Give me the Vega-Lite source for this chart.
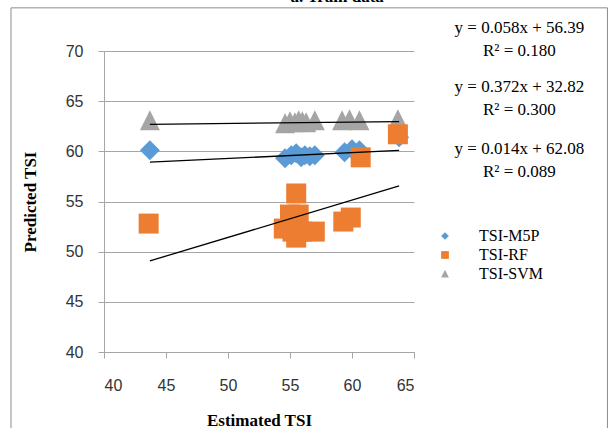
{
  "$schema": "https://vega.github.io/schema/vega-lite/v6.json",
  "width": 310,
  "height": 301,
  "autosize": {"type": "none"},
  "padding": {"left": 104, "top": 51, "right": 199, "bottom": 76},
  "background": "white",
  "config": {"view": {"stroke": null}},
  "datasets": {
    "points": [
      {"series": "TSI-SVM", "est": 43.7, "pred": 63.0},
      {"series": "TSI-SVM", "est": 54.6, "pred": 62.7},
      {"series": "TSI-SVM", "est": 55.0, "pred": 62.9},
      {"series": "TSI-SVM", "est": 55.4, "pred": 62.8},
      {"series": "TSI-SVM", "est": 55.7, "pred": 63.0},
      {"series": "TSI-SVM", "est": 56.0, "pred": 62.9},
      {"series": "TSI-SVM", "est": 56.3, "pred": 62.8},
      {"series": "TSI-SVM", "est": 57.0, "pred": 63.0},
      {"series": "TSI-SVM", "est": 59.2, "pred": 63.0},
      {"series": "TSI-SVM", "est": 59.8, "pred": 63.1},
      {"series": "TSI-SVM", "est": 60.6, "pred": 63.0},
      {"series": "TSI-SVM", "est": 63.7, "pred": 63.1},
      {"series": "TSI-M5P", "est": 43.7, "pred": 60.1},
      {"series": "TSI-M5P", "est": 54.6, "pred": 59.3},
      {"series": "TSI-M5P", "est": 55.1, "pred": 59.6},
      {"series": "TSI-M5P", "est": 55.5, "pred": 59.8},
      {"series": "TSI-M5P", "est": 55.9, "pred": 59.4},
      {"series": "TSI-M5P", "est": 56.2, "pred": 59.6},
      {"series": "TSI-M5P", "est": 56.6, "pred": 59.5},
      {"series": "TSI-M5P", "est": 57.0, "pred": 59.6},
      {"series": "TSI-M5P", "est": 59.4, "pred": 59.9},
      {"series": "TSI-M5P", "est": 60.0, "pred": 60.2},
      {"series": "TSI-M5P", "est": 60.6, "pred": 60.1},
      {"series": "TSI-M5P", "est": 63.8, "pred": 61.4},
      {"series": "TSI-RF", "est": 43.6, "pred": 52.8},
      {"series": "TSI-RF", "est": 55.5, "pred": 55.8},
      {"series": "TSI-RF", "est": 55.0, "pred": 53.7},
      {"series": "TSI-RF", "est": 55.7, "pred": 53.7},
      {"series": "TSI-RF", "est": 54.5, "pred": 52.3},
      {"series": "TSI-RF", "est": 55.2, "pred": 52.0},
      {"series": "TSI-RF", "est": 55.5, "pred": 51.4},
      {"series": "TSI-RF", "est": 56.0, "pred": 52.0},
      {"series": "TSI-RF", "est": 57.0, "pred": 52.0},
      {"series": "TSI-RF", "est": 59.3, "pred": 53.0},
      {"series": "TSI-RF", "est": 59.9, "pred": 53.4},
      {"series": "TSI-RF", "est": 60.7, "pred": 59.4},
      {"series": "TSI-RF", "est": 63.7, "pred": 61.7}
    ],
    "trend": [
      {"series": "TSI-M5P", "est": 43.7, "pred": 58.92},
      {"series": "TSI-M5P", "est": 63.8, "pred": 60.09},
      {"series": "TSI-RF", "est": 43.7, "pred": 49.08},
      {"series": "TSI-RF", "est": 63.8, "pred": 56.55},
      {"series": "TSI-SVM", "est": 43.7, "pred": 62.69},
      {"series": "TSI-SVM", "est": 63.8, "pred": 62.97}
    ]
  },
  "layer": [
    {
      "data": {"values": [{}]},
      "mark": {"type": "rect", "fill": null, "stroke": "#8c8c8c", "strokeWidth": 1, "clip": false},
      "encoding": {
        "x": {"datum": 32.5, "type": "quantitative"},
        "x2": {"datum": 80.6},
        "y": {"datum": 74.3, "type": "quantitative"},
        "y2": {"datum": 30.0}
      }
    },
    {
      "data": {"name": "points"},
      "mark": {"type": "point", "filled": true, "opacity": 1, "size": 400},
      "encoding": {
        "x": {
          "field": "est", "type": "quantitative",
          "scale": {"domain": [40, 65], "nice": false, "zero": false},
          "axis": {
            "values": [40, 45, 50, 55, 60, 65], "grid": false,
            "domainColor": "#a6a6a6", "tickColor": "#a6a6a6", "tickSize": 6,
            "labelFont": "Liberation Sans", "labelFontSize": 16, "labelColor": "#333333", "labelPadding": 19,
            "title": "Estimated TSI", "titleFont": "Liberation Serif", "titleFontSize": 17, "titleFontWeight": "bold", "titleColor": "#000000", "titlePadding": 19
          }
        },
        "y": {
          "field": "pred", "type": "quantitative",
          "scale": {"domain": [40, 70], "nice": false, "zero": false},
          "axis": {
            "values": [40, 45, 50, 55, 60, 65, 70], "grid": true, "gridColor": "#a6a6a6",
            "domainColor": "#a6a6a6", "tickColor": "#a6a6a6", "tickSize": 6,
            "labelFont": "Liberation Sans", "labelFontSize": 16, "labelColor": "#333333", "labelPadding": 15,
            "title": "Predicted TSI", "titleFont": "Liberation Serif", "titleFontSize": 17, "titleFontWeight": "bold", "titleColor": "#000000", "titlePadding": 26
          }
        },
        "color": {
          "field": "series", "type": "nominal",
          "scale": {"domain": ["TSI-M5P", "TSI-RF", "TSI-SVM"], "range": ["#5b9bd5", "#ed7d31", "#a5a5a5"]},
          "legend": {
            "orient": "none", "legendX": 333, "legendY": 177, "title": null,
            "labelFont": "Liberation Serif", "labelFontSize": 16, "labelColor": "#000000",
            "symbolSize": 60, "labelOffset": 26, "rowPadding": 3
          }
        },
        "shape": {
          "field": "series", "type": "nominal",
          "scale": {"domain": ["TSI-M5P", "TSI-RF", "TSI-SVM"], "range": ["diamond", "square", "M0,-1.1L1,0.9L-1,0.9Z"]},
          "legend": null
        }
      }
    },
    {
      "data": {"name": "trend"},
      "mark": {"type": "line", "color": "#000000", "strokeWidth": 1.3},
      "encoding": {
        "x": {"field": "est", "type": "quantitative"},
        "y": {"field": "pred", "type": "quantitative"},
        "detail": {"field": "series"}
      }
    },
    {
      "data": {"values": [{"t": ["y = 0.058x + 56.39", "R² = 0.180"]}]},
      "mark": {"type": "text", "align": "center", "baseline": "alphabetic", "font": "Liberation Serif", "fontSize": 17, "lineHeight": 23, "color": "#000000", "clip": false},
      "encoding": {"text": {"field": "t"}, "x": {"datum": 73.5, "type": "quantitative"}, "y": {"datum": 71.8, "type": "quantitative"}}
    },
    {
      "data": {"values": [{"t": ["y = 0.372x + 32.82", "R² = 0.300"]}]},
      "mark": {"type": "text", "align": "center", "baseline": "alphabetic", "font": "Liberation Serif", "fontSize": 17, "lineHeight": 23, "color": "#000000", "clip": false},
      "encoding": {"text": {"field": "t"}, "x": {"datum": 73.5, "type": "quantitative"}, "y": {"datum": 65.9, "type": "quantitative"}}
    },
    {
      "data": {"values": [{"t": ["y = 0.014x + 62.08", "R² = 0.089"]}]},
      "mark": {"type": "text", "align": "center", "baseline": "alphabetic", "font": "Liberation Serif", "fontSize": 17, "lineHeight": 23, "color": "#000000", "clip": false},
      "encoding": {"text": {"field": "t"}, "x": {"datum": 73.5, "type": "quantitative"}, "y": {"datum": 59.7, "type": "quantitative"}}
    },
    {
      "data": {"values": [{"t": "a. Train data"}]},
      "mark": {"type": "text", "align": "center", "baseline": "alphabetic", "font": "Liberation Serif", "fontSize": 17, "fontWeight": "bold", "color": "#000000", "clip": false},
      "encoding": {"text": {"field": "t"}, "x": {"datum": 58.8, "type": "quantitative"}, "y": {"datum": 74.9, "type": "quantitative"}}
    }
  ]
}
